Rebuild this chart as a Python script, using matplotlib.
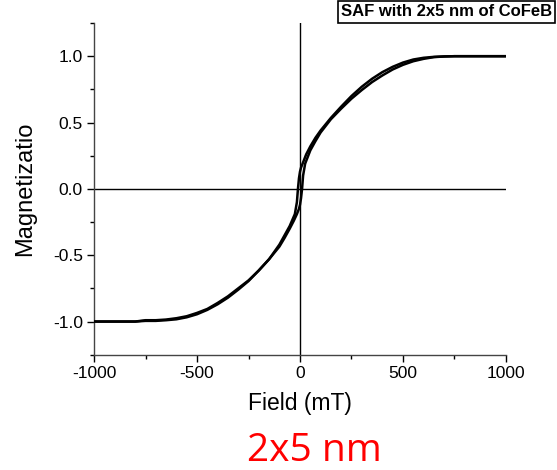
import matplotlib
matplotlib.use("Agg")
import matplotlib.pyplot as plt
from matplotlib.ticker import MultipleLocator

plt.rcParams.update({
    "font.family": ["Liberation Sans", "DejaVu Sans"],
    "font.size": 12,
})

# descending branch (+sat -> -sat)
field_down = [1000, 900, 800, 750, 700, 650, 600, 550, 500, 450, 400, 350, 300, 250,
              200, 150, 100, 75, 50, 30, 15, 5, 0, -5, -10, -15, -25, -50, -75, -100,
              -150, -200, -250, -300, -350, -400, -450, -500, -550, -600, -650, -700,
              -750, -800, -900, -1000]
mag_down = [1.0, 1.0, 1.0, 1.0, 0.998, 0.995, 0.988, 0.975, 0.952, 0.92, 0.88, 0.83, 0.77, 0.70,
            0.62, 0.535, 0.44, 0.385, 0.32, 0.26, 0.2, 0.16, 0.13, 0.08, 0.0, -0.1, -0.19, -0.28,
            -0.35, -0.42, -0.53, -0.615, -0.69, -0.75, -0.81, -0.86, -0.905, -0.935, -0.96,
            -0.975, -0.985, -0.99, -0.99, -1.0, -1.0, -1.0]
# ascending branch (-sat -> +sat)
field_up = [-1000, -900, -800, -750, -700, -650, -600, -550, -500, -450, -400, -350, -300,
            -250, -200, -150, -100, -75, -50, -30, -15, -5, 0, 5, 10, 15, 25, 50, 75, 100,
            150, 200, 250, 300, 350, 400, 450, 500, 550, 600, 650, 700, 750, 800, 1000]
mag_up = [-1.0, -1.0, -1.0, -0.995, -0.995, -0.99, -0.983, -0.968, -0.945, -0.912, -0.87,
          -0.82, -0.76, -0.695, -0.615, -0.53, -0.435, -0.37, -0.3, -0.24, -0.19, -0.15, -0.12,
          -0.07, 0.0, 0.1, 0.19, 0.29, 0.36, 0.425, 0.525, 0.605, 0.68, 0.745, 0.805, 0.855,
          0.9, 0.935, 0.962, 0.98, 0.993, 0.998, 1.0, 1.0, 1.0]

xticks = [-1000, -500, 0, 500, 1000]
yticks = [-1.0, -0.5, 0.0, 0.5, 1.0]

fig = plt.figure(figsize=(5.57, 4.70), dpi=100)
ax = fig.add_axes([0.1688, 0.2453, 0.7396, 0.7057])

ax.axhline(0, color="black", linewidth=1.0, zorder=1)
ax.axvline(0, color="black", linewidth=1.0, zorder=1)
for f, m in [(field_down, mag_down), (field_up, mag_up)]:
    ax.plot(f, m, color="black", linewidth=1.8, zorder=3,
            solid_joinstyle="round", solid_capstyle="butt")

ax.set_xlim(-1000, 1000)
ax.set_ylim(-1.25, 1.25)
ax.set_xticks(xticks)
ax.set_xticklabels([f"{v}" for v in xticks])
ax.set_yticks(yticks)
ax.set_yticklabels([f"{v:.1f}" for v in yticks])
ax.xaxis.set_minor_locator(MultipleLocator(250))
ax.yaxis.set_minor_locator(MultipleLocator(0.25))
ax.tick_params(which="major", direction="out", length=5, width=1, labelsize=12.5, pad=3)
ax.tick_params(which="minor", direction="out", length=3, width=1)

for side in ["top", "right"]:
    ax.spines[side].set_visible(False)
for side in ["left", "bottom"]:
    ax.spines[side].set_color("#444444")
    ax.spines[side].set_linewidth(1.0)

ax.set_xlabel("Field (mT)", fontsize=16.5, labelpad=8)
ax.set_ylabel("Magnetizatio", fontsize=17, labelpad=12)

fig.text(0.612, 0.975, "SAF with 2x5 nm of CoFeB", fontsize=12, fontweight="bold",
         ha="left", va="center",
         bbox=dict(boxstyle="square,pad=0.2", facecolor="white", edgecolor="black", linewidth=1.2))

fig.text(0.564, 0.040, "2x5 nm", fontsize=28, color="#ff0000", ha="center", va="center",
         family=["Open Sans", "DejaVu Sans"])

fig.savefig("out.png", dpi=100)
